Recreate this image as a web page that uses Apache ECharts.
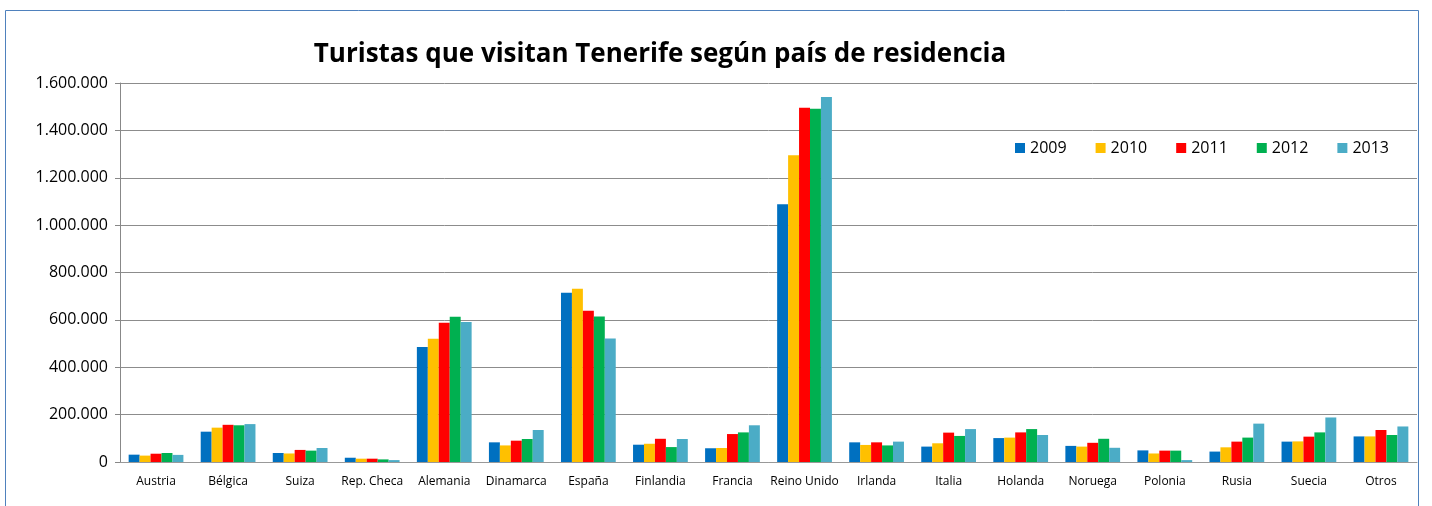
<!DOCTYPE html>
<html lang="es">
  <head>
    <meta charset="UTF-8" />
    <title>Turistas Tenerife</title>
    <style>
      * {
        padding: 0;
        margin: 0;
      }
      html,
      body {
        width: 100%;
        height: 100%;
        background: #fff;
      }
      #main {
        width: 1432px;
        height: 506px;
      }
    </style>
  </head>
  <body>
    <div id="main"></div>
    <script src="https://cdn.jsdelivr.net/npm/echarts@6/dist/echarts.min.js"></script>
    <script>
      // datos
      var paises = ['Austria', 'Bélgica', 'Suiza', 'Rep. Checa', 'Alemania', 'Dinamarca', 'España', 'Finlandia', 'Francia',
        'Reino Unido', 'Irlanda', 'Italia', 'Holanda', 'Noruega', 'Polonia', 'Rusia', 'Suecia', 'Otros'];
      var anios = ['2009', '2010', '2011', '2012', '2013'];
      var colores = ['#0070C0', '#FFC000', '#FF0000', '#00B050', '#4BACC6'];
      var y2009 = [31000, 128000, 38000, 18000, 486000, 83000, 714000, 73000, 58000, 1088000, 83000, 65000, 101000, 68000, 49000, 44000, 86000, 108000];
      var y2010 = [27000, 145000, 36000, 14000, 520000, 70000, 731000, 77000, 59000, 1295000, 72000, 79000, 103000, 65000, 36000, 62000, 87000, 108000];
      var y2011 = [35000, 157000, 51000, 14000, 588000, 90000, 638000, 98000, 118000, 1495000, 83000, 124000, 125000, 81000, 48000, 86000, 107000, 135000];
      var y2012 = [38000, 155000, 48000, 11000, 613000, 97000, 614000, 63000, 125000, 1491000, 70000, 110000, 139000, 98000, 48000, 103000, 125000, 114000];
      var y2013 = [30000, 160000, 59000, 8000, 591000, 135000, 521000, 97000, 155000, 1541000, 86000, 139000, 114000, 60000, 8000, 162000, 188000, 150000];
      var valores = [y2009, y2010, y2011, y2012, y2013];

      var myChart = echarts.init(document.getElementById('main'));

      // 1600000 -> 1.600.000
      function miles(v) {
        return String(v).replace(/\B(?=(\d{3})+(?!\d))/g, '.');
      }

      var option = {
        animation: false,
        textStyle: { fontFamily: 'Open Sans' },
        graphic: [
          {
            type: 'rect',
            shape: { x: 5.5, y: 10.5, width: 1413, height: 520 },
            style: { fill: 'none', stroke: '#4F81BD', lineWidth: 1 },
          },
        ],
        title: {
          text: 'Turistas que visitan Tenerife según país de residencia',
          left: 655,
          textAlign: 'center',
          top: 37,
          textStyle: { fontSize: 26, fontWeight: 'bold', color: '#000', fontFamily: 'Open Sans' },
        },
        legend: {
          data: anios,
          left: 1010,
          top: 135,
          itemWidth: 10,
          itemHeight: 10,
          itemGap: 29,
          icon: 'rect',
          textStyle: { fontSize: 16, color: '#000' },
        },
        grid: {
          left: 120,
          right: 15,
          top: 83,
          bottom: 44,
        },
        xAxis: {
          type: 'category',
          data: paises,
          axisLine: { lineStyle: { color: '#999' } },
          axisTick: { show: false },
          axisLabel: { fontSize: 12, color: '#000', margin: 14, interval: 0 },
        },
        yAxis: {
          type: 'value',
          min: 0,
          max: 1600000,
          interval: 200000,
          axisLine: { show: true, lineStyle: { color: '#888' } },
          axisTick: { show: true, length: 5, lineStyle: { color: '#888' } },
          splitLine: { lineStyle: { color: '#8c8c8c' } },
          axisLabel: { fontSize: 16, color: '#000', margin: 12, formatter: miles },
        },
        series: anios.map(function(a, i) {
          return {
            name: a,
            type: 'bar',
            data: valores[i],
            barGap: '0%',
            barCategoryGap: '24%',
            itemStyle: { color: colores[i] },
          };
        }),
      };
      myChart.setOption(option);
    </script>
  </body>
</html>
